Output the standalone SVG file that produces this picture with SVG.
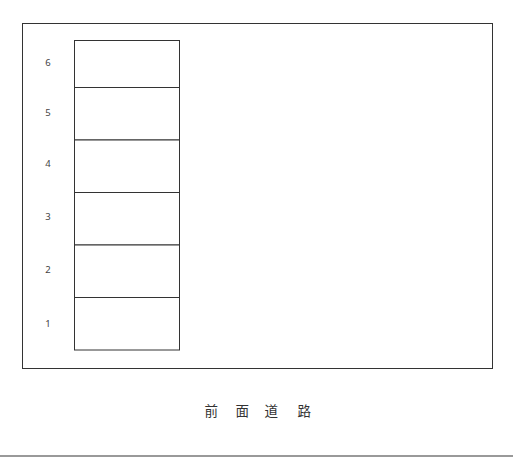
<svg xmlns="http://www.w3.org/2000/svg" width="513" height="468" viewBox="0 0 513 468">
<style>
.frame{fill:none;stroke:#333;stroke-width:1}
.cell{fill:#fff;stroke:#333;stroke-width:1}
.num{font-family:"Noto Sans","DejaVu Sans",sans-serif;font-size:9.5px;fill:#444;text-anchor:middle}
.road{font-family:"Noto Sans CJK JP",sans-serif;font-size:13.5px;fill:#333;white-space:pre}
</style>
<rect width="513" height="468" fill="#fff"/>
<rect id="site" class="frame" x="22.5" y="23.5" width="470" height="345"/>
<g id="floor6"><rect class="cell" x="74.5" y="40.5" width="105" height="47"/><text class="num" x="48" y="66">6</text></g>
<g id="floor5"><rect class="cell" x="74.5" y="87.5" width="105" height="52.5"/><text class="num" x="48" y="116">5</text></g>
<g id="floor4"><rect class="cell" x="74.5" y="140" width="105" height="52.5"/><text class="num" x="48" y="167">4</text></g>
<g id="floor3"><rect class="cell" x="74.5" y="192.5" width="105" height="52.5"/><text class="num" x="48" y="220">3</text></g>
<g id="floor2"><rect class="cell" x="74.5" y="245" width="105" height="52.5"/><text class="num" x="48" y="273">2</text></g>
<g id="floor1"><rect class="cell" x="74.5" y="297.5" width="105" height="52.5"/><text class="num" x="48" y="327">1</text></g>
<g id="road"><text class="road" xml:space="preserve" x="204.5 220 235.5 250 264.5 282 297.5" y="416">前 面 道 路</text>
<line x1="0" y1="456" x2="513" y2="456" stroke="#777" stroke-width="1.5"/></g>
</svg>
